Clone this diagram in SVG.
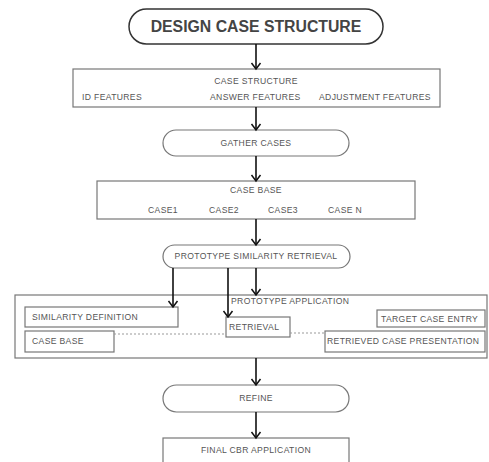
<svg xmlns="http://www.w3.org/2000/svg" width="489" height="462" viewBox="0 0 489 462">
<style>
.box{fill:#fff;stroke:#777;stroke-width:1.2}
.t{font-family:"Liberation Sans",Arial,sans-serif;font-size:8.6px;letter-spacing:0.35px;fill:#555}
.c{text-anchor:middle}
.ar{stroke:#111;stroke-width:1.6;fill:none;marker-end:url(#ah)}
.ds{stroke:#999;stroke-width:1;stroke-dasharray:2,2;fill:none}
</style>
<defs>
<marker id="ah" markerWidth="12" markerHeight="12" refX="10" refY="6" orient="auto" markerUnits="userSpaceOnUse" viewBox="0 0 12 12">
<polyline points="4,1.5 10,6 4,10.5" fill="none" stroke="#111" stroke-width="1.5"/>
</marker>
</defs>
<rect width="489" height="462" fill="#fff"/>
<g id="design">
<rect x="129" y="9" width="254" height="35" rx="17.5" fill="#fff" stroke="#333" stroke-width="1.5"/>
<text x="256" y="32" text-anchor="middle" font-family="'Liberation Sans',Arial,sans-serif" font-size="15.8" font-weight="bold" fill="#444">DESIGN CASE STRUCTURE</text>
</g>
<g id="casestructure">
<rect class="box" x="73" y="69" width="367" height="38"/>
<text class="t c" x="256" y="84">CASE STRUCTURE</text>
<text class="t" x="82" y="100">ID FEATURES</text>
<text class="t" x="210" y="100">ANSWER FEATURES</text>
<text class="t" x="319" y="100">ADJUSTMENT FEATURES</text>
</g>
<g id="gather">
<rect class="box" x="163" y="130" width="186" height="26" rx="13"/>
<text class="t c" x="256" y="146">GATHER CASES</text>
</g>
<g id="casebase">
<rect class="box" x="97" y="181" width="318" height="38"/>
<text class="t c" x="256" y="193">CASE BASE</text>
<text class="t" x="148" y="213">CASE1</text>
<text class="t" x="209" y="213">CASE2</text>
<text class="t" x="268" y="213">CASE3</text>
<text class="t" x="328" y="213">CASE N</text>
</g>
<g id="prototype">
<rect class="box" x="163" y="245" width="187" height="23" rx="11.5"/>
<text class="t c" x="256" y="259">PROTOTYPE SIMILARITY RETRIEVAL</text>
</g>
<g id="application">
<rect class="box" x="15" y="295" width="472" height="63"/>
<text class="t" x="231" y="304">PROTOTYPE APPLICATION</text>
</g>
<g id="simdef">
<rect class="box" x="25" y="307" width="153" height="20"/>
<text class="t" x="32" y="320">SIMILARITY DEFINITION</text>
</g>
<g id="cb2">
<rect class="box" x="25" y="331" width="89" height="21"/>
<text class="t" x="32" y="344">CASE BASE</text>
</g>
<g id="retrieval">
<rect class="box" x="226" y="317" width="64" height="20"/>
<text class="t" x="229" y="330">RETRIEVAL</text>
</g>
<g id="target">
<rect class="box" x="377" y="310" width="108" height="17"/>
<text class="t" x="381" y="322">TARGET CASE ENTRY</text>
</g>
<g id="retrieved">
<rect class="box" x="325" y="331" width="160" height="21"/>
<text class="t" x="327" y="344">RETRIEVED CASE PRESENTATION</text>
</g>
<g id="refine">
<rect class="box" x="163" y="385" width="186" height="27" rx="13.5"/>
<text class="t c" x="256" y="401">REFINE</text>
</g>
<g id="final">
<rect class="box" x="163" y="438" width="186" height="30"/>
<text class="t c" x="256" y="453">FINAL CBR APPLICATION</text>
</g>
<g id="connectors">
<line class="ar" x1="256" y1="44" x2="256" y2="69"/>
<line class="ar" x1="256" y1="107" x2="256" y2="130"/>
<line class="ar" x1="256" y1="156" x2="256" y2="181"/>
<line class="ar" x1="256" y1="219" x2="256" y2="245"/>
<line class="ar" x1="256" y1="268" x2="256" y2="295"/>
<line class="ar" x1="173" y1="268" x2="173" y2="307"/>
<line class="ar" x1="228" y1="268" x2="228" y2="317"/>
<line class="ds" x1="114" y1="334" x2="226" y2="334"/>
<line class="ds" x1="290" y1="333" x2="325" y2="333"/>
<line class="ar" x1="256" y1="358" x2="256" y2="385"/>
<line class="ar" x1="256" y1="412" x2="256" y2="438"/>
</g>
</svg>
